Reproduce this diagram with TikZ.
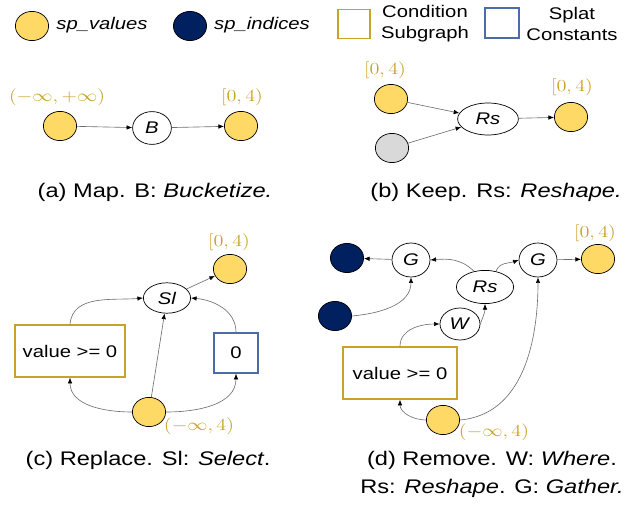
\documentclass[tikz,border=0pt]{standalone}
\usepackage{fontspec}
\setmainfont{Liberation Sans}
\usepackage{tikz}
\usetikzlibrary{arrows.meta, positioning, shapes.geometric}

\definecolor{spval}{HTML}{FFD966}
\definecolor{spidx}{HTML}{002060}
\definecolor{condc}{HTML}{C9A227}
\definecolor{splatc}{HTML}{4A6DAA}
\definecolor{edgec}{HTML}{6E6E6E}

% the figure is a bit wider than tall, so text is widened too
\newcommand{\sx}[1]{\scalebox{1.2}[1]{#1}}

\tikzset{
    val/.style={draw, ellipse, fill=spval, inner sep=0pt, minimum width=0.83cm, minimum height=0.73cm, line width=0.5pt},
    idx/.style={val, fill=spidx},
    other/.style={val, fill=black!15},
    op/.style={draw, ellipse, fill=white, inner sep=0pt, minimum width=0.97cm, minimum height=0.82cm, line width=0.5pt, font=\fontsize{12}{14}\selectfont},
    cond/.style={draw=condc, line width=1pt, inner sep=0pt, minimum width=2.75cm, minimum height=1.3cm, font=\fontsize{12}{14}\selectfont},
    splat/.style={draw=splatc, line width=1pt, inner sep=0pt, minimum width=1.1cm, minimum height=1.0cm, font=\fontsize{12}{14}\selectfont},
    rng/.style={text=condc, inner sep=0pt, font=\fontsize{11.5}{13}\selectfont},
    legend/.style={align=center, inner sep=0pt, font=\fontsize{12}{15}\selectfont},
    caption/.style={align=center, inner sep=0pt, font=\fontsize{14}{20}\selectfont},
    edge/.style={draw=edgec, line width=0.45pt, -{Latex[length=4pt, width=3.2pt, color=black]}}
}

\begin{document}
\begin{tikzpicture}[x=0.025cm, y=-0.025cm]
    \useasboundingbox (0,0) rectangle (639,505);

    % legend
    \node[val] (l1) at (32,26) {};
    \node[legend] (l1t) at (102,25) {\sx{\textit{sp\_values}}};
    \node[idx] (l2) at (190,26) {};
    \node[legend] (l2t) at (262,25) {\sx{\textit{sp\_indices}}};
    \node[cond, minimum width=0.8cm, minimum height=0.73cm] (l3) at (354,24) {};
    \node[legend] (l3t) at (425,24) {\sx{Condition}\\\sx{Subgraph}};
    \node[splat, minimum width=0.85cm, minimum height=0.75cm] (l4) at (502,23) {};
    \node[legend] (l4t) at (572,24) {\sx{Splat}\\\sx{Constants}};

    % (a) map
    \node[val] (a1) at (60,126) {};
    \node[rng] (a1r) at (57,97) {\sx{$(-\infty,+\infty)$}};
    \node[op] (a2) at (152,128) {\sx{\textit{B}}};
    \node[val] (a3) at (241,126) {};
    \node[rng] (a3r) at (242,97) {\sx{$[0,4)$}};
    \draw[edge] (a1) -- (a2);
    \draw[edge] (a2) -- (a3);
    \node[caption] (acap) at (155,192) {\sx{(a) Map. B: \textit{Bucketize.}}};

    % (b) keep
    \node[val] (b1) at (391,99) {};
    \node[rng] (b1r) at (385,70) {\sx{$[0,4)$}};
    \node[other] (b2) at (392,148) {};
    \node[op, minimum width=1.52cm, minimum height=0.8cm] (b3) at (488,119) {\sx{\textit{Rs}}};
    \node[val] (b4) at (571,117) {};
    \node[rng] (b4r) at (572,87) {\sx{$[0,4)$}};
    \draw[edge] (b1) -- (b3);
    \draw[edge] (b2) -- (b3);
    \draw[edge] (b3) -- (b4);
    \node[caption] (bcap) at (496,192) {\sx{(b) Keep. Rs: \textit{Reshape.}}};

    % (c) replace
    \node[op, minimum width=1.18cm, minimum height=0.76cm] (c1) at (167,298) {\sx{\textit{Sl}}};
    \node[val] (c2) at (230,269) {};
    \node[rng] (c2r) at (229,242) {\sx{$[0,4)$}};
    \node[cond] (c3) at (70,351) {\sx{value >= 0}};
    \node[splat] (c4) at (236,353) {\sx{0}};
    \node[val] (c5) at (149,412) {};
    \node[rng] (c5r) at (199,426) {\sx{$(-\infty,4)$}};
    \draw[edge] (c1) -- (c2);
    \draw[edge] (c3.north) to[out=85, in=185] (c1.west);
    \draw[edge] (c4.north) to[out=90, in=-5] (c1.east);
    \draw[edge] (c5) -- (c1);
    \draw[edge] (c5.west) to[out=180, in=-90] (c3.south);
    \draw[edge] (c5.east) to[out=0, in=-90] (c4.south);
    \node[caption] (ccap) at (148,460) {\sx{(c) Replace. Sl: \textit{Select}.}};

    % (d) remove
    \node[idx] (d1) at (347,258) {};
    \node[op, minimum width=0.95cm, minimum height=0.85cm] (d2) at (411,260) {\sx{\textit{G}}};
    \node[idx] (d3) at (335,316) {};
    \node[op, minimum width=1.43cm, minimum height=0.83cm] (d4) at (485,287) {\sx{\textit{Rs}}};
    \node[op, minimum width=1.0cm, minimum height=0.8cm] (d5) at (460,324) {\sx{\textit{W}}};
    \node[op, minimum width=0.95cm, minimum height=0.85cm] (d6) at (538,260) {\sx{\textit{G}}};
    \node[val] (d7) at (598,259) {};
    \node[rng] (d7r) at (595,233) {\sx{$[0,4)$}};
    \node[cond, minimum width=2.85cm] (d8) at (400,373) {\sx{value >= 0}};
    \node[val] (d9) at (443,420) {};
    \node[rng] (d9r) at (494,432) {\sx{$(-\infty,4)$}};
    \draw[edge] (d2) -- (d1);
    \draw[edge] (d3.east) to[out=5, in=-90] (d2.south);
    \draw[edge] (d4.125) to[out=135, in=5] (d2.east);
    \draw[edge] (d4.55) to[out=70, in=200] (d6.west);
    \draw[edge] (d5.east) to[out=70, in=-90] (d4.south);
    \draw[edge] (d6) -- (d7);
    \draw[edge] (d8.north) to[out=90, in=180] (d5.west);
    \draw[edge] (d9.west) to[out=180, in=-90] (d8.south);
    \draw[edge] (d9.east) to[out=5, in=-90] (d6.south);
    \node[caption] (dcap) at (492,474) {\sx{(d) Remove. W: \textit{Where}.}\\\sx{Rs: \textit{Reshape}. G: \textit{Gather.}}};
\end{tikzpicture}
\end{document}
